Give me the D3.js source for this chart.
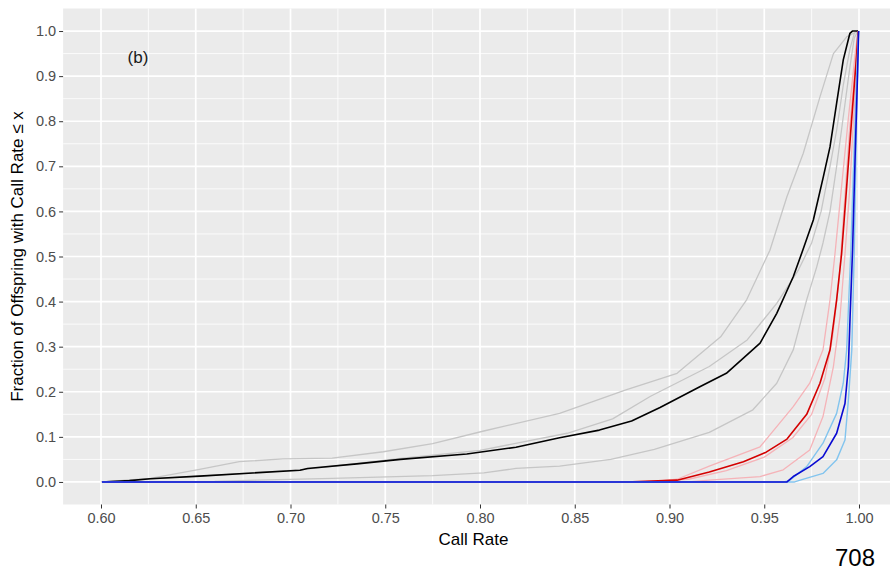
<!DOCTYPE html>
<html lang="en">
<head>
<meta charset="UTF-8">
<title>Call rate ECDF (b)</title>
<script src="https://cdn.jsdelivr.net/npm/d3@7"></script>
<style>
  body { margin: 0; background: #fff; }
  svg { display: block; font-family: "Liberation Sans", Arial, sans-serif; }
</style>
</head>
<body>
<div id="chart"></div>
<script>
    // tick values
    const xTicks = [0.60, 0.65, 0.70, 0.75, 0.80, 0.85, 0.90, 0.95, 1.00];
    const yTicks = [0.0, 0.1, 0.2, 0.3, 0.4, 0.5, 0.6, 0.7, 0.8, 0.9, 1.0];

    // curves: [call rate, fraction]
    const greyUpper = [[0.6005,0],[0.626,0.008],[0.652,0.028],[0.673,0.045],[0.696,0.051],[0.722,0.053],[0.749,0.067],[0.775,0.085],[0.802,0.113],[0.842,0.152],[0.877,0.204],[0.904,0.241],[0.927,0.322],[0.9407,0.404],[0.953,0.514],[0.962,0.633],[0.9706,0.729],[0.9794,0.854],[0.9865,0.950],[0.9935,0.987],[0.9995,1]];
    const greyMiddle = [[0.6005,0],[0.626,0.007],[0.652,0.013],[0.705,0.027],[0.758,0.052],[0.80,0.070],[0.846,0.108],[0.870,0.14],[0.89,0.19],[0.921,0.256],[0.941,0.315],[0.9566,0.396],[0.968,0.47],[0.975,0.53],[0.980,0.60],[0.9847,0.70],[0.9882,0.78],[0.9917,0.88],[0.9952,0.96],[0.9975,0.995],[0.9995,1]];
    const greyLower = [[0.6005,0],[0.66,0.001],[0.682,0.004],[0.722,0.008],[0.775,0.014],[0.802,0.02],[0.819,0.03],[0.842,0.035],[0.869,0.05],[0.892,0.072],[0.921,0.11],[0.944,0.160],[0.9566,0.219],[0.9653,0.293],[0.9724,0.404],[0.9777,0.477],[0.981,0.53],[0.9847,0.60],[0.9882,0.70],[0.9917,0.81],[0.9952,0.92],[0.9975,0.985],[0.9995,1]];
    const black = [[0.6005,0],[0.615,0.003],[0.626,0.007],[0.652,0.013],[0.68,0.02],[0.705,0.026],[0.709,0.03],[0.735,0.04],[0.758,0.05],[0.793,0.062],[0.819,0.077],[0.842,0.098],[0.863,0.115],[0.88,0.135],[0.895,0.165],[0.916,0.211],[0.930,0.241],[0.9478,0.308],[0.9566,0.374],[0.9653,0.455],[0.970,0.51],[0.9759,0.581],[0.9812,0.677],[0.9847,0.743],[0.9882,0.840],[0.9917,0.936],[0.9952,0.995],[0.9965,1],[0.9995,1]];
    const pinkUpper = [[0.6005,0],[0.89,0],[0.904,0.006],[0.921,0.035],[0.9478,0.078],[0.9653,0.167],[0.974,0.219],[0.981,0.293],[0.9847,0.404],[0.9873,0.505],[0.9908,0.655],[0.9943,0.803],[0.998,0.95],[0.9995,1]];
    const pinkMiddle = [[0.6005,0],[0.885,0],[0.91,0.006],[0.93,0.025],[0.95,0.055],[0.965,0.098],[0.975,0.15],[0.982,0.23],[0.986,0.32],[0.9895,0.45],[0.992,0.6],[0.995,0.78],[0.9985,0.95],[0.9995,1]];
    const pinkLower = [[0.6005,0],[0.91,0],[0.921,0.004],[0.9478,0.012],[0.960,0.027],[0.974,0.071],[0.981,0.145],[0.9865,0.256],[0.990,0.367],[0.9926,0.505],[0.9952,0.655],[0.997,0.80],[0.9993,0.95],[0.9995,1]];
    const red = [[0.6005,0],[0.877,0],[0.904,0.004],[0.921,0.022],[0.939,0.045],[0.951,0.066],[0.962,0.095],[0.9724,0.150],[0.9794,0.219],[0.9847,0.293],[0.9882,0.404],[0.9908,0.505],[0.9935,0.655],[0.9961,0.803],[0.9988,0.950],[0.9995,1]];
    const lightBlueLeft = [[0.6005,0],[0.96,0],[0.963,0.002],[0.9724,0.034],[0.981,0.086],[0.9882,0.152],[0.9917,0.219],[0.9935,0.293],[0.9957,0.514],[0.9975,0.75],[0.999,0.93],[0.9998,1]];
    const lightBlueRight = [[0.6005,0],[0.966,0],[0.969,0.004],[0.981,0.019],[0.9882,0.049],[0.9926,0.093],[0.9944,0.182],[0.9962,0.293],[0.9975,0.514],[0.9985,0.75],[0.9993,0.93],[0.9998,1]];
    const blue = [[0.6005,0],[0.962,0],[0.9653,0.012],[0.974,0.034],[0.981,0.056],[0.9882,0.108],[0.9926,0.174],[0.9944,0.256],[0.9953,0.367],[0.9966,0.514],[0.998,0.729],[0.9993,0.914],[0.9998,1]];

    const width = 890;
    const height = 574;

    const x = d3.scaleLinear().domain([0.58, 1.02]).range([63.1, 896.9]);
    const y = d3.scaleLinear().domain([-0.05, 1.05]).range([504.5, 8.5]);

    const svg = d3.select("#chart")
        .append("svg")
        .attr("width", width)
        .attr("height", height);

    // panel background (cut off on the right like the source image)
    svg.append("rect")
        .attr("x", x(0.58)).attr("y", y(1.05))
        .attr("width", x(1.02) - x(0.58))
        .attr("height", y(-0.05) - y(1.05))
        .attr("fill", "#ebebeb");

    const grid = svg.append("g");
    const xMinor = d3.range(0.625, 1.0, 0.05);
    const yMinor = d3.range(0.05, 1.0, 0.1);

    grid.selectAll(".xminor").data(xMinor).join("line")
        .attr("x1", d => x(d)).attr("x2", d => x(d))
        .attr("y1", y(1.05)).attr("y2", y(-0.05))
        .attr("stroke", "#fff").attr("stroke-width", 0.8);
    grid.selectAll(".yminor").data(yMinor).join("line")
        .attr("x1", x(0.58)).attr("x2", x(1.02))
        .attr("y1", d => y(d)).attr("y2", d => y(d))
        .attr("stroke", "#fff").attr("stroke-width", 0.8);
    grid.selectAll(".xmajor").data(xTicks).join("line")
        .attr("x1", d => x(d)).attr("x2", d => x(d))
        .attr("y1", y(1.05)).attr("y2", y(-0.05))
        .attr("stroke", "#fff").attr("stroke-width", 1.7);
    grid.selectAll(".ymajor").data(yTicks).join("line")
        .attr("x1", x(0.58)).attr("x2", x(1.02))
        .attr("y1", d => y(d)).attr("y2", d => y(d))
        .attr("stroke", "#fff").attr("stroke-width", 1.7);

    // axes
    const xAxis = svg.append("g")
        .attr("transform", `translate(0,${y(-0.05)})`)
        .call(d3.axisBottom(x).tickValues(xTicks).tickFormat(d3.format(".2f")).tickSize(4).tickPadding(4))
        .call(g => g.select(".domain").remove());
    const yAxis = svg.append("g")
        .attr("transform", `translate(${x(0.58)},0)`)
        .call(d3.axisLeft(y).tickValues(yTicks).tickFormat(d3.format(".1f")).tickSize(4).tickPadding(3))
        .call(g => g.select(".domain").remove());

    [xAxis, yAxis].forEach(g => {
        g.selectAll(".tick line").attr("stroke", "#333").attr("stroke-width", 1);
        g.selectAll(".tick text")
            .attr("fill", "#4d4d4d")
            .style("font-size", "14.5px")
            .style("font-family", "'Liberation Sans', Arial, sans-serif");
    });

    // curves
    const line = d3.line().x(d => x(d[0])).y(d => y(d[1]));
    const series = [
        {data: greyUpper, color: "#c6c6c6", w: 1.3},
        {data: greyMiddle, color: "#c6c6c6", w: 1.3},
        {data: greyLower, color: "#c6c6c6", w: 1.3},
        {data: black, color: "#000000", w: 1.6},
        {data: pinkUpper, color: "#f5b3b8", w: 1.3},
        {data: pinkMiddle, color: "#f5b3b8", w: 1.3},
        {data: pinkLower, color: "#f5b3b8", w: 1.3},
        {data: red, color: "#d40000", w: 1.6},
        {data: lightBlueLeft, color: "#82c4ee", w: 1.4},
        {data: lightBlueRight, color: "#82c4ee", w: 1.4},
        {data: blue, color: "#0a0ad2", w: 1.6}
    ];

    svg.append("g")
        .selectAll("path")
        .data(series)
        .join("path")
        .attr("d", d => line(d.data))
        .attr("fill", "none")
        .attr("stroke", d => d.color)
        .attr("stroke-width", d => d.w)
        .attr("stroke-linejoin", "round");

    // labels
    svg.append("text")
        .attr("x", 138).attr("y", 63)
        .attr("text-anchor", "middle")
        .style("font-size", "17px")
        .attr("fill", "#1a1a1a")
        .text("(b)");

    svg.append("text")
        .attr("x", (x(0.58) + 890) / 2 - 3).attr("y", 545)
        .attr("text-anchor", "middle")
        .style("font-size", "17px")
        .attr("fill", "#000")
        .text("Call Rate");

    svg.append("text")
        .attr("transform", `translate(23,${(y(1.05) + y(-0.05)) / 2}) rotate(-90)`)
        .attr("text-anchor", "middle")
        .style("font-size", "17px")
        .attr("fill", "#000")
        .text("Fraction of Offspring with Call Rate ≤ x");

    // page number at the bottom right
    svg.append("text")
        .attr("x", 855).attr("y", 566)
        .attr("text-anchor", "middle")
        .style("font-size", "24px")
        .attr("fill", "#000")
        .text("708");
</script>
</body>
</html>
